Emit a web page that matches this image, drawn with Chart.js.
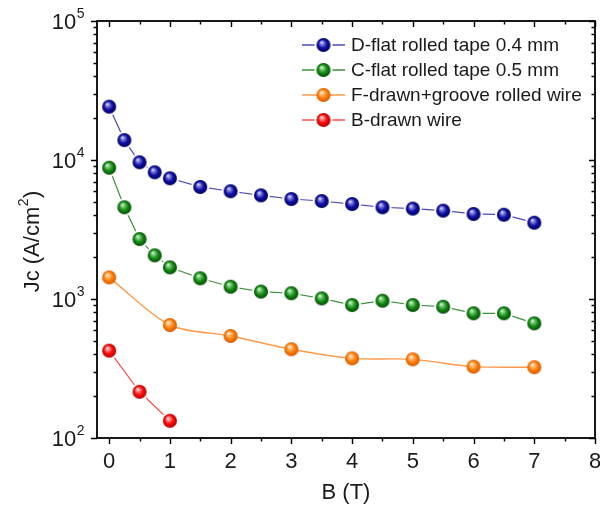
<!DOCTYPE html>
<html>
<head>
<meta charset="utf-8">
<script src="https://cdn.jsdelivr.net/npm/chart.js@4"></script>
<style>
  html, body { margin: 0; padding: 0; background: #fff; }
</style>
</head>
<body>
<canvas id="jc" width="600" height="508"></canvas>
<script>
// field values (T) and critical current density (A/cm2)
const fieldD = [0, 0.25, 0.5, 0.75, 1, 1.5, 2, 2.5, 3, 3.5, 4, 4.5, 5, 5.5, 6, 6.5, 7];
const jcD = [24200, 13900, 9630, 8160, 7390, 6400, 5960, 5570, 5240, 5070, 4820, 4570, 4470, 4320, 4090, 4040, 3540];

const fieldC = [0, 0.25, 0.5, 0.75, 1, 1.5, 2, 2.5, 3, 3.5, 4, 4.5, 5, 5.5, 6, 6.5, 7];
const jcC = [8800, 4570, 2700, 2060, 1690, 1410, 1225, 1130, 1100, 1010, 905, 972, 905, 880, 789, 789, 668];

const fieldF = [0, 1, 2, 3, 4, 5, 6, 7];
const jcF = [1430, 650, 542, 435, 374, 368, 326, 323];

const fieldB = [0, 0.5, 1];
const jcB = [425, 215, 133];

const seriesNames = [
    'D-flat rolled tape 0.4 mm',
    'C-flat rolled tape 0.5 mm',
    'F-drawn+groove rolled wire',
    'B-drawn wire'
];

const xTicks = [0, 0.5, 1, 1.5, 2, 2.5, 3, 3.5, 4, 4.5, 5, 5.5, 6, 6.5, 7, 7.5, 8];
const yDecades = [100, 1000, 10000, 100000];
const yExponents = ['2', '3', '4', '5'];

const FONT = "'Liberation Sans', Arial, sans-serif";
const BIG = 22;
const SUP = 14;
Chart.defaults.font.family = FONT;
Chart.defaults.color = '#1a1a1a';

// shaded ball marker, with a white halo so the line stops short of it
function ball(base, light, dark, halo) {
    const r = 7;
    const pad = halo ? 2 : 0;
    const c = document.createElement('canvas');
    c.width = c.height = 2 * (r + pad) + 2;
    const g = c.getContext('2d');
    const m = c.width / 2;
    if (halo) {
        g.fillStyle = '#ffffff';
        g.beginPath();
        g.arc(m, m, r + pad, 0, Math.PI * 2);
        g.fill();
    }
    const grad = g.createRadialGradient(m - r * 0.3, m - r * 0.4, 0, m, m, r);
    grad.addColorStop(0, '#ffffff');
    grad.addColorStop(0.22, light);
    grad.addColorStop(0.6, base);
    grad.addColorStop(1, dark);
    g.fillStyle = grad;
    g.beginPath();
    g.arc(m, m, r, 0, Math.PI * 2);
    g.fill();
    return c;
}

const ballD = ball('#1010a6', '#8a8ae6', '#00005c', true);
const ballC = ball('#168c16', '#86d486', '#004c00', true);
const ballF = ball('#ff8208', '#ffc890', '#d85800', false);
const ballB = ball('#ff0a0a', '#ff9a9a', '#b00000', true);

function pts(xs, ys) {
    return xs.map((v, i) => ({ x: v, y: ys[i] }));
}

// widths of main text, raised part and tail, e.g. 10^5 or cm^2)
function supWidth(ctx, main, sup, tail) {
    ctx.font = BIG + 'px ' + FONT;
    const w1 = ctx.measureText(main).width;
    const w3 = tail ? ctx.measureText(tail).width : 0;
    ctx.font = SUP + 'px ' + FONT;
    const w2 = ctx.measureText(sup).width;
    return [w1, w2, w3];
}

function drawSup(ctx, x, yMid, main, sup, tail) {
    const [w1, w2] = supWidth(ctx, main, sup, tail);
    ctx.textBaseline = 'middle';
    ctx.textAlign = 'left';
    ctx.font = BIG + 'px ' + FONT;
    ctx.fillText(main, x, yMid);
    ctx.font = SUP + 'px ' + FONT;
    ctx.fillText(sup, x + w1 + 0.5, yMid - 9);
    if (tail) {
        ctx.font = BIG + 'px ' + FONT;
        ctx.fillText(tail, x + w1 + w2 + 1, yMid);
    }
}

const frameAndTicks = {
    id: 'frameAndTicks',
    afterDraw(chart) {
        const { ctx, chartArea: a, scales } = chart;
        const x = scales.x, y = scales.y;
        ctx.save();
        ctx.strokeStyle = '#000';
        ctx.lineWidth = 1.4;
        ctx.beginPath();
        x.ticks.forEach(t => {
            const px = Math.round(x.getPixelForValue(t.value)) + 0.5;
            const len = Number.isInteger(t.value) ? 6 : 3.5;
            ctx.moveTo(px, a.bottom);
            ctx.lineTo(px, a.bottom + len);
            ctx.moveTo(px, a.top);
            ctx.lineTo(px, a.top + len);
        });
        y.ticks.forEach(t => {
            const py = Math.round(y.getPixelForValue(t.value)) + 0.5;
            const len = yDecades.includes(t.value) ? 6 : 3.5;
            ctx.moveTo(a.left - len, py);
            ctx.lineTo(a.left, py);
            ctx.moveTo(a.right, py);
            ctx.lineTo(a.right - len, py);
        });
        ctx.stroke();
        ctx.lineWidth = 1.8;
        ctx.strokeRect(a.left, a.top, a.right - a.left, a.bottom - a.top);

        // decade labels 10^n
        ctx.fillStyle = '#1a1a1a';
        yDecades.forEach((d, i) => {
            const py = y.getPixelForValue(d);
            const [w1, w2] = supWidth(ctx, '10', yExponents[i]);
            drawSup(ctx, a.left - 13 - w1 - w2, py + 2, '10', yExponents[i]);
        });

        // rotated axis title Jc (A/cm^2)
        ctx.save();
        ctx.translate(33, (a.top + a.bottom) / 2 + 12);
        ctx.rotate(-Math.PI / 2);
        const [t1, t2, t3] = supWidth(ctx, 'Jc (A/cm', '2', ')');
        drawSup(ctx, -(t1 + t2 + t3 + 1) / 2, 0, 'Jc (A/cm', '2', ')');
        ctx.restore();
        ctx.restore();
    }
};

const ballLegend = {
    id: 'ballLegend',
    afterDraw(chart) {
        const { ctx, chartArea: a } = chart;
        ctx.save();
        ctx.font = '19px ' + FONT;
        ctx.textBaseline = 'middle';
        ctx.fillStyle = '#1a1a1a';
        chart.data.datasets.forEach((ds, i) => {
            const cy = a.top + 24 + i * 25;
            const x0 = a.left + 205;
            ctx.strokeStyle = ds.borderColor;
            ctx.lineWidth = 1.5;
            ctx.beginPath();
            ctx.moveTo(x0, cy);
            ctx.lineTo(x0 + 43, cy);
            ctx.stroke();
            const img = ds.pointStyle;
            ctx.drawImage(img, x0 + 21.5 - img.width / 2, cy - img.height / 2);
            ctx.fillText(ds.label, x0 + 49, cy + 1);
        });
        ctx.restore();
    }
};

new Chart(document.getElementById('jc'), {
    type: 'line',
    data: {
        datasets: [
            {
                label: seriesNames[0],
                data: pts(fieldD, jcD),
                borderColor: '#4a4ab4',
                borderWidth: 1.2,
                pointStyle: ballD
            },
            {
                label: seriesNames[1],
                data: pts(fieldC, jcC),
                borderColor: '#3d8f3d',
                borderWidth: 1.2,
                pointStyle: ballC
            },
            {
                label: seriesNames[2],
                data: pts(fieldF, jcF),
                borderColor: '#ff9a4c',
                borderWidth: 1.4,
                tension: 0.3,
                pointStyle: ballF
            },
            {
                label: seriesNames[3],
                data: pts(fieldB, jcB),
                borderColor: '#ff5050',
                borderWidth: 1.2,
                pointStyle: ballB
            }
        ]
    },
    options: {
        responsive: false,
        animation: false,
        layout: {
            autoPadding: false,
            padding: { top: 21, right: 5, left: 0, bottom: 0 }
        },
        plugins: {
            legend: { display: false },
            tooltip: { enabled: false }
        },
        scales: {
            x: {
                type: 'linear',
                min: -0.2,
                max: 8,
                afterBuildTicks: (scale) => {
                    scale.ticks = xTicks.map(v => ({ value: v }));
                },
                afterFit: (scale) => {
                    scale.height = 70;
                    scale.paddingRight = 0;
                    scale.paddingLeft = 0;
                },
                grid: { display: false, drawTicks: false },
                border: { display: false },
                ticks: {
                    padding: 11,
                    autoSkip: false,
                    maxRotation: 0,
                    font: { size: BIG },
                    callback: (v) => Number.isInteger(v) ? String(v) : ''
                },
                title: {
                    display: true,
                    text: 'B (T)',
                    font: { size: BIG },
                    padding: { top: 0, bottom: 2 }
                }
            },
            y: {
                type: 'logarithmic',
                min: 100,
                max: 100000,
                afterBuildTicks: (scale) => {
                    const list = [];
                    yDecades.forEach((d, i) => {
                        if (i === yDecades.length - 1) {
                            list.push({ value: d });
                            return;
                        }
                        for (let m = 1; m < 10; m++) list.push({ value: m * d });
                    });
                    scale.ticks = list;
                },
                afterFit: (scale) => {
                    scale.width = 97;
                    scale.paddingTop = 0;
                    scale.paddingBottom = 0;
                },
                grid: { display: false, drawTicks: false },
                border: { display: false },
                ticks: { display: false }
            }
        },
        elements: {
            point: { radius: 7 },
            line: { fill: false }
        }
    },
    plugins: [frameAndTicks, ballLegend]
});
</script>
</body>
</html>
